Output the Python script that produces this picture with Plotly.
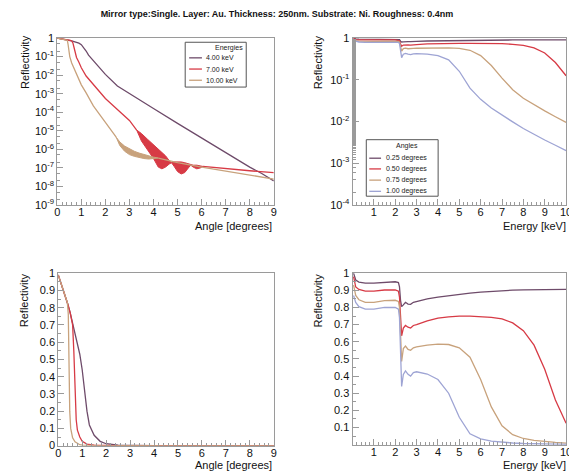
import plotly.graph_objects as go

# The page body has an 8 px margin, so the figure is drawn 8 px in from the corner.
OFF = 8
W, H = 577 - OFF, 476 - OFF

# ---------------- Reflectivity vs angle (degrees) ----------------
ang_4kev = [0, 0.1, 0.2, 0.3, 0.4, 0.5, 0.6, 0.7, 0.8, 0.9, 1.0, 1.1, 1.2, 1.3, 1.4, 1.5,
            1.75, 2.0, 2.5, 3.0, 3.5, 4.0, 5.0, 6.0, 7.0, 8.0, 8.5, 9.0]
refl_4kev = [0.99, 0.95, 0.91, 0.87, 0.82, 0.77, 0.71, 0.65, 0.6, 0.53, 0.44, 0.31, 0.2, 0.12,
             0.085, 0.06, 0.025, 0.011, 2.6e-3, 1.0e-3, 4.0e-4, 1.6e-4, 2.5e-5, 4.0e-6,
             6.3e-7, 1.1e-7, 5.0e-8, 2.0e-8]

ang_7kev = [0, 0.1, 0.2, 0.3, 0.4, 0.5, 0.55, 0.6, 0.65, 0.7, 0.75, 0.8, 0.9, 1.0, 1.2, 1.5,
            1.75, 2.0, 2.5, 3.0, 3.3]
refl_7kev = [0.99, 0.95, 0.91, 0.87, 0.82, 0.77, 0.74, 0.7, 0.55, 0.3, 0.15, 0.09, 0.05, 0.025,
             0.009, 0.003, 1.2e-3, 5.5e-4, 1.4e-4, 3.6e-5, 1.1e-5]
# oscillation band of the 7 keV curve (upper / lower envelope)
band7_ang = [3.3, 3.5, 3.75, 4.0, 4.2, 4.35, 4.5, 4.65, 4.75, 4.85, 5.0, 5.15, 5.3, 5.45,
             5.55, 5.65, 5.8, 5.95, 6.05]
band7_hi = [1.1e-5, 7.1e-6, 3.5e-6, 1.8e-6, 1.1e-6, 7.1e-7, 4.5e-7, 2.5e-7, 1.9e-7, 2.1e-7,
            2.2e-7, 2.1e-7, 1.9e-7, 1.7e-7, 1.45e-7, 1.4e-7, 1.4e-7, 1.25e-7, 1.2e-7]
band7_lo = [1.1e-5, 2.8e-6, 1.0e-6, 3.2e-7, 1.1e-7, 8.9e-8, 1.1e-7, 1.6e-7, 1.9e-7, 1.25e-7,
            6.3e-8, 4.7e-8, 5.6e-8, 1.0e-7, 1.4e-7, 1.1e-7, 8.9e-8, 1.0e-7, 1.2e-7]
tail7_ang = [6.05, 6.5, 7.0, 8.0, 9.0]
tail7_refl = [1.2e-7, 1.05e-7, 9.0e-8, 7.0e-8, 5.6e-8]

ang_10kev = [0, 0.1, 0.2, 0.3, 0.38, 0.42, 0.45, 0.48, 0.52, 0.6, 0.7, 0.8, 0.9, 1.0, 1.2,
             1.5, 1.75, 2.0, 2.25, 2.45]
refl_10kev = [0.99, 0.95, 0.91, 0.87, 0.83, 0.76, 0.45, 0.2, 0.1, 0.045, 0.022, 0.011, 5.5e-3,
              3.0e-3, 1.1e-3, 2.2e-4, 8.0e-5, 2.8e-5, 1.0e-5, 4.5e-6]
band10_ang = [2.45, 2.6, 2.8, 3.0, 3.2, 3.4, 3.6, 3.8, 4.0, 4.2]
band10_hi = [4.5e-6, 2.5e-6, 1.5e-6, 1.05e-6, 7.9e-7, 6.3e-7, 5.2e-7, 4.5e-7, 3.8e-7, 3.4e-7]
band10_lo = [4.5e-6, 1.6e-6, 7.9e-7, 5.2e-7, 4.2e-7, 3.5e-7, 3.2e-7, 3.0e-7, 3.2e-7, 3.4e-7]
tail10_ang = [4.2, 5.0, 6.0, 7.0, 8.0, 9.0]
tail10_refl = [3.4e-7, 1.9e-7, 1.1e-7, 6.8e-8, 4.0e-8, 2.5e-8]

# ---------------- Reflectivity vs energy (keV) ----------------
energy = [0.05, 0.15, 0.3, 0.6, 1.0, 1.5, 2.0, 2.15, 2.2, 2.25, 2.3, 2.38, 2.48, 2.6, 2.72,
          2.85, 3.0, 3.5, 4.0, 4.5, 5.0, 5.5, 6.0, 6.5, 7.0, 7.5, 8.0, 8.5, 9.0, 9.5, 10.0]
refl_025deg = [1.0, 0.96, 0.948, 0.942, 0.942, 0.948, 0.95, 0.945, 0.92, 0.84, 0.805, 0.815,
               0.83, 0.82, 0.818, 0.83, 0.835, 0.85, 0.86, 0.869, 0.877, 0.884, 0.89, 0.895,
               0.898, 0.901, 0.903, 0.904, 0.905, 0.905, 0.905]
refl_050deg = [0.98, 0.92, 0.905, 0.895, 0.895, 0.902, 0.903, 0.895, 0.86, 0.72, 0.635, 0.68,
               0.695, 0.685, 0.68, 0.695, 0.70, 0.722, 0.738, 0.745, 0.75, 0.75, 0.748, 0.742,
               0.734, 0.71, 0.665, 0.58, 0.44, 0.26, 0.125]
refl_075deg = [0.93, 0.87, 0.845, 0.83, 0.83, 0.84, 0.842, 0.835, 0.8, 0.6, 0.485, 0.56, 0.575,
               0.555, 0.55, 0.565, 0.57, 0.58, 0.586, 0.584, 0.565, 0.51, 0.38, 0.22, 0.11,
               0.058, 0.036, 0.025, 0.018, 0.013, 0.0095]
refl_100deg = [0.87, 0.83, 0.805, 0.79, 0.79, 0.8, 0.8, 0.79, 0.74, 0.5, 0.34, 0.41, 0.43, 0.41,
               0.40, 0.42, 0.425, 0.412, 0.38, 0.3, 0.16, 0.063, 0.034, 0.021, 0.014, 0.0098,
               0.0068, 0.0049, 0.0036, 0.0027, 0.002]

energy_labels = ["4.00 keV", "7.00 keV", "10.00 keV"]
angle_labels = ["0.25 degrees", "0.50 degrees", "0.75 degrees", "1.00 degrees"]

C_DARK = "#6e4b6a"
C_RED = "#d73a45"
C_TAN = "#c8a27c"
C_BLUE = "#9ea4d4"
FRAME = "#9a9a9a"
FONT = "Liberation Sans, Arial, sans-serif"

fig = go.Figure()


def line(x, y, color, xa, ya):
    fig.add_trace(go.Scatter(x=x, y=y, mode="lines", line=dict(color=color, width=1.3),
                             xaxis=xa, yaxis=ya, showlegend=False, hoverinfo="skip"))


def band(x, hi, lo, color, xa, ya):
    fig.add_trace(go.Scatter(x=list(x) + list(x)[::-1], y=list(hi) + list(lo)[::-1],
                             mode="lines", fill="toself", fillcolor=color,
                             line=dict(color=color, width=1), xaxis=xa, yaxis=ya,
                             showlegend=False, hoverinfo="skip"))


for xa, ya in [("x", "y"), ("x3", "y3")]:
    line(ang_4kev, refl_4kev, C_DARK, xa, ya)
    line(ang_7kev, refl_7kev, C_RED, xa, ya)
    band(band7_ang, band7_hi, band7_lo, C_RED, xa, ya)
    line(tail7_ang, tail7_refl, C_RED, xa, ya)
    line(ang_10kev, refl_10kev, C_TAN, xa, ya)
    band(band10_ang, band10_hi, band10_lo, C_TAN, xa, ya)
    line(tail10_ang, tail10_refl, C_TAN, xa, ya)

for xa, ya in [("x2", "y2"), ("x4", "y4")]:
    line(energy, refl_025deg, C_DARK, xa, ya)
    line(energy, refl_050deg, C_RED, xa, ya)
    line(energy, refl_075deg, C_TAN, xa, ya)
    line(energy, refl_100deg, C_BLUE, xa, ya)


def px(x):
    return (x - OFF) / W


def py(y):
    return 1 - (y - OFF) / H


tickfont = dict(family=FONT, size=11, color="#111")
common = dict(showline=True, linecolor=FRAME, linewidth=1, mirror=True, ticks="inside",
              tickcolor=FRAME, ticklen=6, showgrid=False, zeroline=False, tickfont=tickfont)
xcommon = dict(common, ticklabelstandoff=-3)

logtxt9 = ["10<sup>-%d</sup>" % k for k in range(9, 0, -1)] + ["1"]
logtxt4 = ["10<sup>-%d</sup>" % k for k in range(4, 0, -1)] + ["1"]
lin_vals = [round(0.1 * k, 1) for k in range(0, 11)]
lin_txt = ["0"] + ["%.1f" % v for v in lin_vals[1:10]] + ["1"]

fig.update_layout(
    width=W, height=H, margin=dict(l=0, r=0, t=0, b=0), autosize=False,
    paper_bgcolor="white", plot_bgcolor="white",
    font=dict(family=FONT, color="#111"),
    title=dict(text="Mirror type:Single. Layer: Au. Thickness: 250nm. Substrate: Ni. Roughness: 0.4nm",
               x=px(277), y=py(14), xanchor="center", yanchor="middle",
               font=dict(family=FONT, size=9, color="#111", weight="bold")),
    xaxis=dict(domain=[px(55), px(275)], range=[0, 9], anchor="y", tickvals=list(range(10)),
               minor=dict(ticks="inside", ticklen=3, tickcolor=FRAME, dtick=0.2), **xcommon),
    yaxis=dict(domain=[py(204), py(32.7)], type="log", range=[-9, 0], anchor="x",
               tickvals=[10.0 ** k for k in range(-9, 1)], ticktext=logtxt9,
               minor=dict(ticks="inside", ticklen=3, tickcolor=FRAME), **common),
    xaxis2=dict(domain=[px(355), px(572)], range=[0, 10], anchor="y2", tickvals=list(range(1, 11)),
                minor=dict(ticks="inside", ticklen=3, tickcolor=FRAME, dtick=0.2), **xcommon),
    yaxis2=dict(domain=[py(204), py(32.7)], type="log", range=[-4, 0], anchor="x2",
                tickvals=[10.0 ** k for k in range(-4, 1)], ticktext=logtxt4,
                minor=dict(ticks="inside", ticklen=3, tickcolor=FRAME), **common),
    xaxis3=dict(domain=[px(56), px(275)], range=[0, 9], anchor="y3", tickvals=list(range(10)),
                minor=dict(ticks="inside", ticklen=3, tickcolor=FRAME, dtick=0.2), **xcommon),
    yaxis3=dict(domain=[py(451), py(274)], range=[0, 1], anchor="x3",
                tickvals=lin_vals, ticktext=lin_txt,
                minor=dict(ticks="inside", ticklen=3, tickcolor=FRAME, dtick=0.05), **common),
    xaxis4=dict(domain=[px(355), px(572)], range=[0, 10], anchor="y4", tickvals=list(range(1, 11)),
                minor=dict(ticks="inside", ticklen=3, tickcolor=FRAME, dtick=0.2), **xcommon),
    yaxis4=dict(domain=[py(450), py(274)], range=[0, 1], anchor="x4",
                tickvals=lin_vals[1:], ticktext=lin_txt[1:],
                minor=dict(ticks="inside", ticklen=3, tickcolor=FRAME, dtick=0.05), **common),
)

ann = []
shapes = []
tfont = dict(family=FONT, size=11, color="#111")
for (x, y) in [(22, 57.5), (22, 302), (320, 57.5), (320, 302)]:
    ann.append(dict(text="Reflectivity", x=px(x), y=py(y), xref="paper", yref="paper",
                    textangle=-90, showarrow=False, font=tfont, xanchor="center", yanchor="middle"))
for (x, y, t) in [(275, 226, "Angle [degrees]"), (275, 471, "Angle [degrees]"),
                  (574, 226, "Energy [keV]"), (574, 471, "Energy [keV]")]:
    ann.append(dict(text=t, x=px(x), y=py(y), xref="paper", yref="paper", showarrow=False,
                    font=tfont, xanchor="right", yanchor="middle"))

lfont = dict(family=FONT, size=7, color="#222")


def legend(box, header, hx, hy, ys, lx0, lx1, tx, labels, colors):
    x0, x1, y0, y1 = box
    shapes.append(dict(type="rect", xref="paper", yref="paper", x0=px(x0), x1=px(x1),
                       y0=py(y1), y1=py(y0), line=dict(color="#555", width=1),
                       fillcolor="white", layer="above"))
    ann.append(dict(text=header, x=px(hx), y=py(hy), xref="paper", yref="paper",
                    showarrow=False, font=lfont, xanchor="center", yanchor="middle"))
    for yy, lab, col in zip(ys, labels, colors):
        shapes.append(dict(type="line", xref="paper", yref="paper", x0=px(lx0), x1=px(lx1),
                           y0=py(yy), y1=py(yy), line=dict(color=col, width=1.3), layer="above"))
        ann.append(dict(text=lab, x=px(tx), y=py(yy), xref="paper", yref="paper",
                        showarrow=False, font=lfont, xanchor="left", yanchor="middle"))


legend((185, 247, 37, 83), "Energies", 229, 43, [53, 64.5, 76], 189, 202, 204,
       energy_labels, [C_DARK, C_RED, C_TAN])
legend((369, 442, 137, 195), "Angles", 410, 143.5, [156, 167, 178.5, 190], 372, 384, 387,
       angle_labels, [C_DARK, C_RED, C_TAN, C_BLUE])

fig.update_layout(annotations=ann, shapes=shapes)
fig.write_html("out.html")
